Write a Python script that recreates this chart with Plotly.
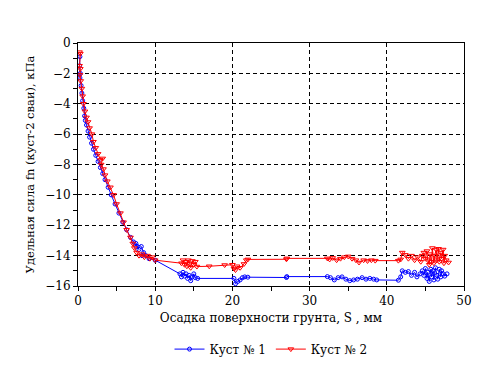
import plotly.graph_objects as go

# Куст № 1 (blue)
s1 = [0.25, 0.2, 0.3, 0.25, 0.4, 0.5, 0.6, 0.75, 0.85, 0.95, 1.1, 1.3, 1.5, 1.75, 2.0, 2.3, 2.6, 2.9,
      3.2, 3.5, 3.9, 4.3, 4.8, 5.3, 5.8, 6.3, 6.8, 7.2, 7.6, 7.9, 7.5, 8.2, 8.5, 8.3, 8.8, 9.2, 10.0,
      13.2, 13.4, 13.6, 13.8, 14.0, 14.2, 14.4, 14.6, 14.8, 15.0, 15.2, 15.5,
      20.2, 20.4, 20.7, 21.0, 21.3, 21.6, 22.0, 27.0, 27.05, 32.3,
      32.7, 33.2, 33.7, 34.2, 34.7, 35.2, 35.7, 36.2, 36.8, 37.3, 37.8, 38.3, 38.7, 41.5,
      41.8, 42.0, 42.4, 42.8, 43.2, 43.6, 43.9, 44.3, 44.6, 44.8, 45.0, 45.2, 45.3, 45.5,
      45.7, 45.8, 46.0, 46.1, 46.3, 46.5, 46.6, 46.8, 47.0, 47.1, 47.3, 47.5, 47.8]
f1 = [-0.9, -1.5, -2.0, -2.3, -2.8, -3.3, -3.8, -4.3, -4.8, -5.1, -5.4, -5.8, -6.2, -6.6, -7.0, -7.4, -7.8, -8.2,
      -8.6, -9.0, -9.5, -10.0, -10.6, -11.2, -11.8, -12.3, -12.8, -13.1, -13.4, -13.6, -13.2, -13.4, -13.8, -14.0, -14.0, -14.2, -14.3,
      -15.2, -15.4, -15.1, -15.35, -15.2, -15.5, -15.3, -15.65, -15.4, -15.2, -15.45, -15.5,
      -15.5, -15.85, -15.7, -15.6, -15.45, -15.4, -15.42, -15.44, -15.38, -15.38,
      -15.45, -15.6, -15.45, -15.4, -15.55, -15.65, -15.6, -15.55, -15.45, -15.55, -15.5, -15.55, -15.6, -15.62,
      -15.4, -15.0, -15.1, -15.05, -15.3, -15.1, -15.4, -15.2, -15.0, -15.3, -14.85, -15.5, -15.1, -15.7,
      -14.9, -15.4, -15.0, -15.6, -14.8, -15.3, -15.55, -14.9, -15.4, -15.0, -15.2, -15.35, -15.2]

# Куст № 2 (red)
s2 = [0.2, 0.3, 0.2, 0.3, 0.25, 0.35, 0.5, 0.6, 0.7, 0.9, 1.1, 1.3, 1.5, 1.8, 2.0, 2.3, 2.6, 2.9, 3.2,
      3.0, 3.3, 3.5, 3.8, 4.2, 4.6, 5.0, 5.5, 5.9, 6.3, 6.8, 7.1, 7.3, 7.6, 7.9, 8.3, 8.6, 9.0, 9.3, 9.6, 10.0,
      13.4, 13.6, 13.8, 14.0, 14.1, 14.3, 14.5, 14.6, 14.8, 15.0, 15.2, 15.4, 17.0, 19.0,
      20.0, 20.2, 20.4, 20.6, 21.0, 21.5, 21.8, 22.0, 27.0, 27.05, 32.3,
      32.6, 33.0, 33.5, 34.0, 34.5, 35.0, 35.5, 36.0, 36.4, 37.0, 37.5, 38.0, 38.5, 41.5,
      41.8, 42.0, 42.4, 42.8, 43.2, 43.6, 44.0, 44.4, 44.6, 44.8, 45.0, 45.2, 45.3, 45.5,
      45.6, 45.8, 45.9, 46.1, 46.2, 46.4, 46.5, 46.7, 46.8, 47.0, 47.1, 47.3, 47.4, 47.5, 47.7, 48.0]
f2 = [-0.6, -0.7, -1.5, -1.7, -2.1, -2.5, -3.0, -3.5, -4.0, -4.5, -4.9, -5.2, -5.6, -6.0, -6.5, -6.9, -7.3, -7.7, -7.6,
      -8.0, -8.3, -8.7, -9.1, -9.5, -10.0, -10.6, -11.2, -11.8, -12.3, -12.8, -13.2, -13.5, -13.8, -14.0, -13.9, -14.1, -14.0, -14.2, -14.1, -14.3,
      -14.5, -14.3, -14.6, -14.4, -14.7, -14.3, -14.55, -14.8, -14.35, -14.6, -14.4, -14.72, -14.7, -14.62,
      -14.6, -14.85, -14.95, -14.7, -14.8, -14.55, -14.3, -14.25, -14.24, -14.18, -14.18,
      -14.25, -14.15, -14.3, -14.2, -14.1, -14.05, -14.2, -14.3, -14.45, -14.3, -14.35, -14.3, -14.33, -14.33,
      -14.25, -13.8, -13.95, -14.2, -14.0, -14.3, -14.1, -14.4, -14.0, -13.8, -14.2, -13.7, -14.3, -14.6,
      -13.9, -14.4, -13.5, -14.5, -14.0, -13.6, -14.3, -13.55, -14.4, -13.8, -14.2, -13.6, -14.5, -14.0, -14.3, -14.45]

x_ticks = [0, 10, 20, 30, 40, 50]
y_ticks = [0, -2, -4, -6, -8, -10, -12, -14, -16]

FONT = "DejaVu Serif"

fig = go.Figure()
fig.add_trace(go.Scatter(x=s1, y=f1, mode="lines+markers", name="Куст № 1",
                         line=dict(color="#0000ff", width=1),
                         marker=dict(symbol="circle-open", size=4, color="#0000ff", line=dict(width=1))))
fig.add_trace(go.Scatter(x=s2, y=f2, mode="lines+markers", name="Куст № 2",
                         line=dict(color="#ff0000", width=1),
                         marker=dict(symbol="triangle-down-open", size=5, color="#ff0000", line=dict(width=1))))

axis_common = dict(showline=True, linecolor="black", linewidth=1, mirror=True,
                   ticks="outside", ticklen=4, tickcolor="black", zeroline=False,
                   showgrid=True, gridcolor="black", gridwidth=1, griddash="4px,3px",
                   tickfont=dict(family=FONT, size=12, color="black"))

fig.update_xaxes(range=[0, 50], tickvals=x_ticks,
                 minor=dict(dtick=5, tick0=0, ticks="outside", ticklen=4, tickcolor="black", showgrid=False),
                 title=dict(text="Осадка поверхности грунта, S , мм", standoff=6,
                            font=dict(family=FONT, size=12, color="black")),
                 **axis_common)
fig.update_yaxes(range=[-16, 0], tickvals=y_ticks,
                 minor=dict(dtick=1, tick0=0, ticks="outside", ticklen=4, tickcolor="black", showgrid=False),
                 title=dict(text="Удельная сила fn (куст-2 сваи), кПа", standoff=8,
                            font=dict(family=FONT, size=11.5, color="black")),
                 **axis_common)

fig.update_layout(width=482, height=360, margin=dict(l=70, r=26, t=35, b=82, autoexpand=False),
                  paper_bgcolor="white", plot_bgcolor="white",
                  font=dict(family=FONT, size=12, color="black"),
                  legend=dict(orientation="h", x=0.5, xanchor="center", y=-0.20, yanchor="top",
                              font=dict(family=FONT, size=12, color="black"),
                              itemwidth=30, tracegroupgap=0, bgcolor="rgba(0,0,0,0)"),
                  showlegend=True)

fig.write_html("out.html")
